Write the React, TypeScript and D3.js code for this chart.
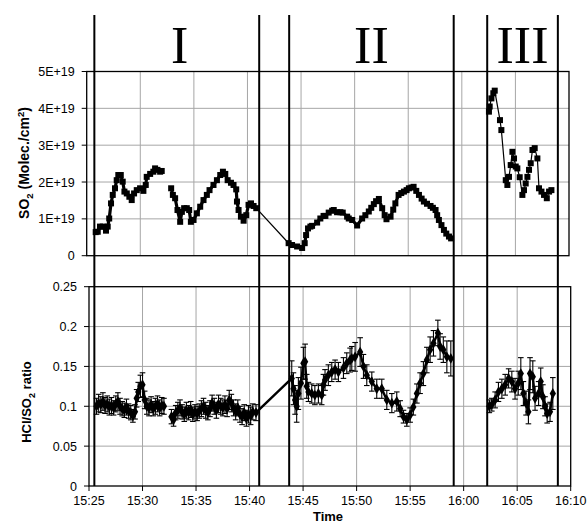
import React, { useEffect, useRef } from 'react';
import * as d3 from 'd3';

type Pt = [number, number];
type ErrPt = [number, number, number];

// time is in minutes after 15:00
const TIME_TICKS = [25, 30, 35, 40, 45, 50, 55, 60, 65, 70];
const TIME_LABELS = ['15:25', '15:30', '15:35', '15:40', '15:45', '15:50', '15:55', '16:00', '16:05', '16:10'];

const SO2_TICKS = [0, 1, 2, 3, 4, 5];
const SO2_LABELS = ['0', '1E+19', '2E+19', '3E+19', '4E+19', '5E+19'];

const RATIO_TICKS = [0, 0.05, 0.1, 0.15, 0.2, 0.25];
const RATIO_LABELS = ['0', '0.05', '0.1', '0.15', '0.2', '0.25'];

const PHASE_BOUNDS = [25.5, 40.9, 43.7, 59.07, 62.2, 68.8];
const PHASE_NAMES = ['I', 'II', 'III'];

// SO2 column, in units of 1E+19 molec./cm2
const so2IA: Pt[] = [
  [25.84, 0.64], [26.03, 0.65], [26.24, 0.79], [26.5, 0.79], [26.8, 0.68], [26.96, 0.79],
  [27.1, 1.01], [27.27, 1.42], [27.43, 1.65], [27.64, 1.83], [27.8, 2.05], [27.95, 2.19],
  [28.18, 2.19], [28.36, 2.01], [28.52, 1.74], [28.74, 1.69], [28.98, 1.6], [29.2, 1.51],
  [29.42, 1.69], [29.67, 1.78], [29.98, 1.83], [30.29, 1.76], [30.51, 1.92], [30.6, 2.14],
  [30.92, 2.22], [31.22, 2.28], [31.38, 2.37], [31.6, 2.33], [31.85, 2.28], [32.0, 2.3],
];

const so2IB: Pt[] = [
  [32.88, 1.83], [33.04, 1.65], [33.25, 1.56], [33.47, 1.24], [33.72, 0.92], [33.88, 1.19],
  [34.09, 1.29], [34.34, 1.29], [34.56, 1.24], [34.72, 0.92], [34.97, 0.97], [35.28, 1.15],
  [35.59, 1.33], [35.9, 1.51], [36.21, 1.65], [36.46, 1.78], [36.83, 1.92], [37.15, 2.05],
  [37.46, 2.19], [37.71, 2.28], [37.93, 2.22], [38.15, 2.05], [38.46, 1.98], [38.7, 1.92],
  [38.95, 1.8], [39.02, 1.47], [39.17, 1.24], [39.39, 1.06], [39.64, 0.95], [39.89, 1.1],
  [40.1, 1.38], [40.33, 1.42], [40.57, 1.35], [40.82, 1.29],
];

const so2II: Pt[] = [
  [43.84, 0.34], [44.16, 0.29], [44.63, 0.25], [45.1, 0.21], [45.34, 0.34], [45.47, 0.56],
  [45.65, 0.74], [45.87, 0.79], [46.03, 0.81], [46.5, 0.9], [46.8, 1.01], [47.1, 1.08],
  [47.27, 1.08], [47.58, 1.17], [47.9, 1.22], [48.05, 1.24], [48.36, 1.18], [48.67, 1.18],
  [48.89, 1.17], [49.3, 1.06], [49.45, 1.01], [49.77, 0.97], [50.23, 0.82], [50.7, 1.01],
  [51.0, 1.1], [51.32, 1.2], [51.55, 1.3], [51.79, 1.4], [52.0, 1.48], [52.26, 1.54],
  [52.57, 1.29], [52.8, 1.1], [52.97, 0.99], [53.35, 1.06], [53.6, 1.25], [53.8, 1.42],
  [54.1, 1.65], [54.35, 1.7], [54.6, 1.74], [54.85, 1.78], [55.06, 1.83], [55.3, 1.85],
  [55.5, 1.87], [55.75, 1.76], [56.0, 1.65], [56.25, 1.55], [56.46, 1.47], [56.75, 1.41],
  [57.08, 1.35], [57.3, 1.3], [57.55, 1.24], [57.7, 1.1], [57.86, 0.97], [58.1, 0.83],
  [58.33, 0.7], [58.55, 0.6], [58.8, 0.52], [59.0, 0.47],
];

const so2III: Pt[] = [
  [62.53, 3.91], [62.6, 4.05], [62.76, 4.27], [62.94, 4.41], [63.07, 4.48], [63.56, 3.68],
  [63.69, 3.41], [64.1, 2.05], [64.25, 1.92], [64.4, 2.14], [64.56, 2.46], [64.72, 2.82],
  [64.87, 2.64], [65.03, 2.42], [65.18, 2.37], [65.4, 2.13], [65.65, 1.65], [65.8, 1.78],
  [65.96, 1.96], [66.12, 2.14], [66.27, 2.33], [66.43, 2.51], [66.59, 2.87], [66.8, 2.92],
  [67.05, 2.64], [67.2, 1.83], [67.43, 1.74], [67.67, 1.65], [67.93, 1.56], [68.14, 1.74],
  [68.36, 1.78],
];

// HCl/SO2 ratio: [time, value, error]
const ratioIA: ErrPt[] = [
  [25.7, 0.1, 0.01], [25.9, 0.104, 0.011], [26.1, 0.102, 0.01], [26.3, 0.106, 0.011],
  [26.5, 0.101, 0.01], [26.7, 0.103, 0.01], [26.9, 0.099, 0.01], [27.1, 0.101, 0.01],
  [27.3, 0.098, 0.009], [27.5, 0.103, 0.01], [27.7, 0.106, 0.011], [27.9, 0.1, 0.01],
  [28.1, 0.097, 0.009], [28.3, 0.095, 0.009], [28.5, 0.099, 0.01], [28.7, 0.094, 0.009],
  [28.9, 0.092, 0.009], [29.1, 0.088, 0.008], [29.3, 0.093, 0.009], [29.45, 0.11, 0.011],
  [29.6, 0.118, 0.012], [29.8, 0.125, 0.014], [30.0, 0.127, 0.015], [30.2, 0.108, 0.011],
  [30.4, 0.1, 0.01], [30.6, 0.098, 0.01], [30.8, 0.102, 0.01], [31.0, 0.097, 0.009],
  [31.2, 0.1, 0.01], [31.4, 0.103, 0.01], [31.6, 0.098, 0.01], [31.8, 0.101, 0.01],
  [32.0, 0.1, 0.01],
];

const ratioIB: ErrPt[] = [
  [32.7, 0.087, 0.009], [32.9, 0.083, 0.008], [33.1, 0.092, 0.009], [33.3, 0.095, 0.01],
  [33.5, 0.098, 0.01], [33.7, 0.093, 0.009], [33.9, 0.09, 0.009], [34.1, 0.095, 0.01],
  [34.3, 0.092, 0.009], [34.5, 0.096, 0.01], [34.7, 0.09, 0.009], [34.9, 0.093, 0.009],
  [35.1, 0.091, 0.009], [35.3, 0.094, 0.009], [35.5, 0.097, 0.01], [35.7, 0.1, 0.01],
  [35.9, 0.095, 0.01], [36.1, 0.092, 0.009], [36.3, 0.097, 0.01], [36.5, 0.104, 0.01],
  [36.7, 0.1, 0.01], [36.9, 0.095, 0.01], [37.1, 0.103, 0.011], [37.3, 0.1, 0.01],
  [37.5, 0.098, 0.01], [37.7, 0.102, 0.011], [37.9, 0.097, 0.01], [38.1, 0.108, 0.012],
  [38.3, 0.104, 0.011], [38.5, 0.098, 0.01], [38.7, 0.093, 0.01], [38.9, 0.098, 0.01],
  [39.1, 0.09, 0.01], [39.3, 0.087, 0.01], [39.5, 0.092, 0.01], [39.7, 0.085, 0.01],
  [39.9, 0.09, 0.011], [40.1, 0.088, 0.011], [40.3, 0.093, 0.01], [40.6, 0.092, 0.01],
];

const ratioII: ErrPt[] = [
  [43.94, 0.135, 0.022], [44.1, 0.122, 0.02], [44.25, 0.108, 0.018], [44.4, 0.1, 0.02],
  [44.56, 0.116, 0.02], [44.8, 0.129, 0.02], [45.03, 0.154, 0.02], [45.19, 0.156, 0.022],
  [45.34, 0.125, 0.015], [45.5, 0.118, 0.012], [45.81, 0.116, 0.012], [46.1, 0.114, 0.012],
  [46.43, 0.116, 0.012], [46.74, 0.114, 0.012], [46.9, 0.127, 0.013], [47.05, 0.133, 0.013],
  [47.36, 0.139, 0.013], [47.68, 0.143, 0.012], [47.99, 0.146, 0.012], [48.3, 0.143, 0.012],
  [48.77, 0.148, 0.013], [49.08, 0.154, 0.013], [49.39, 0.158, 0.015], [49.55, 0.16, 0.015],
  [49.86, 0.162, 0.018], [50.33, 0.168, 0.018], [50.64, 0.15, 0.015], [50.95, 0.139, 0.013],
  [51.42, 0.131, 0.012], [51.88, 0.122, 0.012], [52.35, 0.122, 0.012], [52.82, 0.108, 0.012],
  [53.29, 0.104, 0.012], [53.75, 0.106, 0.012], [54.07, 0.097, 0.01], [54.38, 0.087, 0.008],
  [54.69, 0.083, 0.008], [55.0, 0.089, 0.009], [55.3, 0.099, 0.01], [55.63, 0.116, 0.012],
  [55.93, 0.129, 0.013], [56.24, 0.141, 0.015], [56.56, 0.158, 0.016], [56.87, 0.171, 0.016],
  [57.18, 0.179, 0.016], [57.59, 0.192, 0.016], [57.8, 0.175, 0.016], [58.1, 0.171, 0.016],
  [58.43, 0.162, 0.02], [58.8, 0.16, 0.022],
];

const ratioIII: ErrPt[] = [
  [62.4, 0.1, 0.008], [62.63, 0.102, 0.008], [62.94, 0.108, 0.01], [63.25, 0.118, 0.012],
  [63.57, 0.122, 0.012], [63.88, 0.127, 0.013], [64.2, 0.135, 0.012], [64.5, 0.131, 0.013],
  [64.8, 0.122, 0.013], [65.1, 0.129, 0.015], [65.34, 0.141, 0.02], [65.58, 0.116, 0.015],
  [65.83, 0.104, 0.015], [66.05, 0.093, 0.015], [66.2, 0.141, 0.02], [66.46, 0.137, 0.02],
  [66.67, 0.11, 0.015], [67.0, 0.116, 0.015], [67.2, 0.131, 0.017], [67.4, 0.112, 0.015],
  [67.6, 0.1, 0.012], [67.8, 0.091, 0.012], [68.07, 0.093, 0.012], [68.33, 0.116, 0.02],
];

// joined runs: the end of phase I is connected to the start of phase II
const SO2_RUNS: Pt[][] = [so2IA, [...so2IB, ...so2II], so2III];
const RATIO_RUNS: ErrPt[][] = [ratioIA, [...ratioIB, ...ratioII], ratioIII];

const FONT = '"Liberation Sans", Arial, Helvetica, sans-serif';
const GRID = '#a6a6a6';

export default function App() {
  const svgRef = useRef<SVGSVGElement | null>(null);

  useEffect(() => {
    const svgEl = svgRef.current;
    if (!svgEl) return;
    const svg = d3.select(svgEl);
    svg.selectAll('*').remove();

    const width = 588;
    const height = 529;

    svg.attr('viewBox', `0 0 ${width} ${height}`);
    svg.append('rect').attr('width', width).attr('height', height).attr('fill', '#fff');

    // Scales
    const xTop = d3.scaleLinear().domain([25, 70]).range([86.7, 569]);
    const yTop = d3.scaleLinear().domain([0, 5]).range([255.7, 71.5]);
    const xBot = d3.scaleLinear().domain([25, 70]).range([89, 570.7]);
    const yBot = d3.scaleLinear().domain([0, 0.25]).range([486, 286.7]);

    const drawFrame = (
      x: d3.ScaleLinear<number, number>,
      y: d3.ScaleLinear<number, number>,
      yTicks: number[],
      yLabels: string[],
    ) => {
      const [x0, x1] = x.range();
      const [y0, y1] = y.range();
      const g = svg.append('g');

      g.selectAll('line.vgrid')
        .data(TIME_TICKS.slice(1, -1))
        .enter()
        .append('line')
        .attr('x1', d => x(d))
        .attr('x2', d => x(d))
        .attr('y1', y1)
        .attr('y2', y0)
        .attr('stroke', GRID)
        .attr('stroke-width', 1);

      g.selectAll('line.hgrid')
        .data(yTicks.slice(1, -1))
        .enter()
        .append('line')
        .attr('x1', x0)
        .attr('x2', x1)
        .attr('y1', d => y(d))
        .attr('y2', d => y(d))
        .attr('stroke', GRID)
        .attr('stroke-width', 1);

      g.append('rect')
        .attr('x', x0)
        .attr('y', y1)
        .attr('width', x1 - x0)
        .attr('height', y0 - y1)
        .attr('fill', 'none')
        .attr('stroke', '#000')
        .attr('stroke-width', 1.3);

      // y ticks + labels
      g.selectAll('line.ytick')
        .data(yTicks)
        .enter()
        .append('line')
        .attr('x1', x0 - 5)
        .attr('x2', x0)
        .attr('y1', d => y(d))
        .attr('y2', d => y(d))
        .attr('stroke', '#000');

      g.selectAll('text.ylab')
        .data(yTicks)
        .enter()
        .append('text')
        .attr('x', x0 - 12)
        .attr('y', d => y(d) + 4.5)
        .attr('text-anchor', 'end')
        .attr('font-family', FONT)
        .attr('font-size', 12.5)
        .attr('fill', '#000')
        .text((_, i) => yLabels[i]);
    };

    drawFrame(xTop, yTop, SO2_TICKS, SO2_LABELS);
    drawFrame(xBot, yBot, RATIO_TICKS, RATIO_LABELS);

    // x axis on lower panel
    const xg = svg.append('g');
    xg.selectAll('line')
      .data(TIME_TICKS)
      .enter()
      .append('line')
      .attr('x1', d => xBot(d))
      .attr('x2', d => xBot(d))
      .attr('y1', 486)
      .attr('y2', 491)
      .attr('stroke', '#000');
    xg.selectAll('text')
      .data(TIME_TICKS)
      .enter()
      .append('text')
      .attr('x', d => xBot(d))
      .attr('y', 505)
      .attr('text-anchor', 'middle')
      .attr('font-family', FONT)
      .attr('font-size', 12.5)
      .text((_, i) => TIME_LABELS[i]);

    // SO2 series
    const so2Line = d3
      .line<Pt>()
      .x(d => xTop(d[0]))
      .y(d => yTop(d[1]));
    const so2G = svg.append('g');
    SO2_RUNS.forEach((run, i) => {
      so2G
        .append('path')
        .attr('d', so2Line(run))
        .attr('fill', 'none')
        .attr('stroke', '#000')
        .attr('stroke-width', i === 2 ? 1.2 : 1.3);
    });
    // thicken the dense parts of the trace (skip the bridge between phase I and II)
    [so2IA, so2IB, so2II].forEach(run => {
      so2G
        .append('path')
        .attr('d', so2Line(run))
        .attr('fill', 'none')
        .attr('stroke', '#000')
        .attr('stroke-width', 3.2)
        .attr('stroke-linejoin', 'round');
    });
    const allSo2 = SO2_RUNS.flat();
    so2G
      .selectAll('rect')
      .data(allSo2)
      .enter()
      .append('rect')
      .attr('x', d => xTop(d[0]) - 3)
      .attr('y', d => yTop(d[1]) - 3)
      .attr('width', 6)
      .attr('height', 6)
      .attr('fill', '#000');

    // HCl/SO2 ratio series with error bars
    const ratioLine = d3
      .line<ErrPt>()
      .x(d => xBot(d[0]))
      .y(d => yBot(d[1]));
    const rG = svg.append('g');
    const allRatio = RATIO_RUNS.flat();
    rG.selectAll('line.err')
      .data(allRatio)
      .enter()
      .append('line')
      .attr('x1', d => xBot(d[0]))
      .attr('x2', d => xBot(d[0]))
      .attr('y1', d => yBot(d[1] - d[2]))
      .attr('y2', d => yBot(d[1] + d[2]))
      .attr('stroke', '#000')
      .attr('stroke-width', 1.1);
    ['lo', 'hi'].forEach(side => {
      rG.selectAll(`line.cap-${side}`)
        .data(allRatio)
        .enter()
        .append('line')
        .attr('x1', d => xBot(d[0]) - 2.8)
        .attr('x2', d => xBot(d[0]) + 2.8)
        .attr('y1', d => yBot(side === 'lo' ? d[1] - d[2] : d[1] + d[2]))
        .attr('y2', d => yBot(side === 'lo' ? d[1] - d[2] : d[1] + d[2]))
        .attr('stroke', '#000')
        .attr('stroke-width', 1.1);
    });
    RATIO_RUNS.forEach(run => {
      rG.append('path')
        .attr('d', ratioLine(run))
        .attr('fill', 'none')
        .attr('stroke', '#000')
        .attr('stroke-width', 2.4)
        .attr('stroke-linejoin', 'round');
    });
    const diamond = d3.symbol().type(d3.symbolDiamond).size(34);
    rG.selectAll('path.pt')
      .data(allRatio)
      .enter()
      .append('path')
      .attr('d', diamond() as string)
      .attr('transform', d => `translate(${xBot(d[0])},${yBot(d[1])})`)
      .attr('fill', '#000');

    // phase boundaries
    svg
      .append('g')
      .selectAll('line')
      .data(PHASE_BOUNDS)
      .enter()
      .append('line')
      .attr('x1', d => xBot(d))
      .attr('x2', d => xBot(d))
      .attr('y1', 15)
      .attr('y2', 486)
      .attr('stroke', '#000')
      .attr('stroke-width', 2);

    svg
      .append('g')
      .selectAll('text')
      .data(PHASE_NAMES)
      .enter()
      .append('text')
      .attr('x', (_, i) => xBot((PHASE_BOUNDS[i * 2] + PHASE_BOUNDS[i * 2 + 1]) / 2) + (i === 0 ? 3 : 0))
      .attr('y', 63)
      .attr('text-anchor', 'middle')
      .attr('font-family', '"Liberation Serif", "Times New Roman", serif')
      .attr('font-size', 52)
      .text(d => d);

    // axis titles
    const so2Title = svg
      .append('text')
      .attr('transform', 'translate(29,163) rotate(-90)')
      .attr('text-anchor', 'middle')
      .attr('font-family', FONT)
      .attr('font-weight', 'bold')
      .attr('font-size', 14);
    so2Title.append('tspan').text('SO');
    so2Title.append('tspan').attr('font-size', 9.5).attr('dy', 4).text('2');
    so2Title.append('tspan').attr('dy', -4).text(' (Molec./cm');
    so2Title.append('tspan').attr('font-size', 9.5).attr('dy', -5).text('2');
    so2Title.append('tspan').attr('dy', 5).text(')');

    const ratioTitle = svg
      .append('text')
      .attr('transform', 'translate(31,402) rotate(-90)')
      .attr('text-anchor', 'middle')
      .attr('font-family', FONT)
      .attr('font-weight', 'bold')
      .attr('font-size', 13);
    ratioTitle.append('tspan').text('HCl/SO');
    ratioTitle.append('tspan').attr('font-size', 9).attr('dy', 4).text('2');
    ratioTitle.append('tspan').attr('dy', -4).text(' ratio');

    svg
      .append('text')
      .attr('x', 328)
      .attr('y', 521)
      .attr('text-anchor', 'middle')
      .attr('font-family', FONT)
      .attr('font-weight', 'bold')
      .attr('font-size', 13)
      .text('Time');
  }, []);

  return (
    <svg
      ref={svgRef}
      width={588}
      height={529}
      style={{ position: 'absolute', left: 0, top: 0, display: 'block' }}
    />
  );
}
